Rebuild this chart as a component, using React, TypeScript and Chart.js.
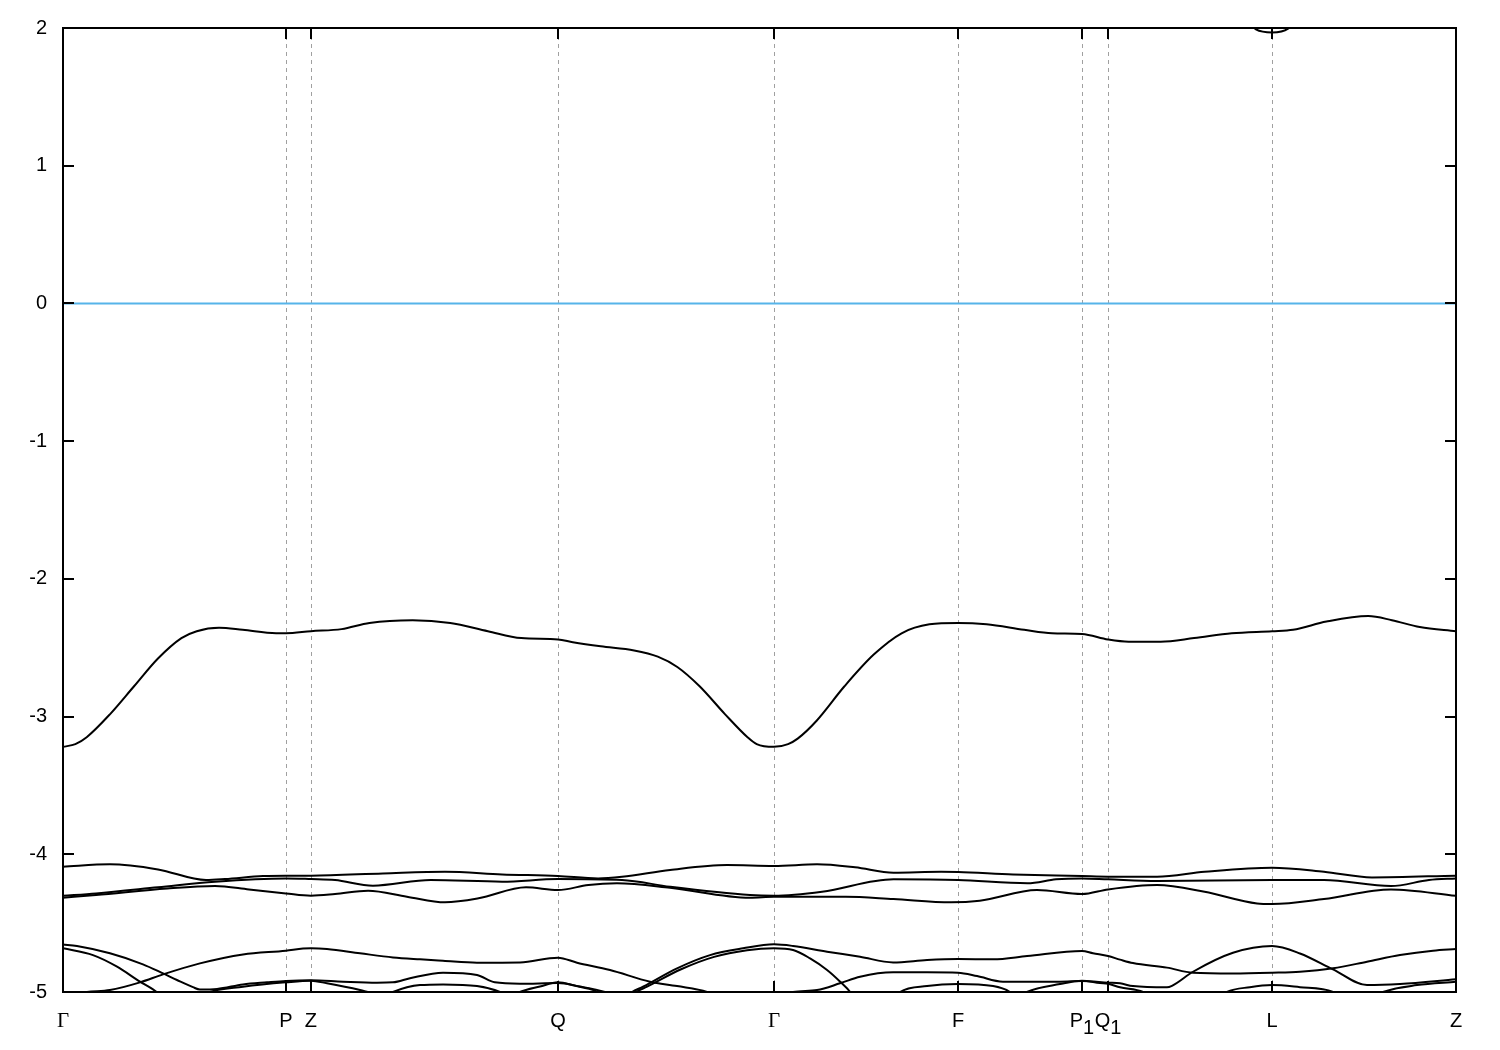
import React, { useEffect, useRef } from 'react';
import { Chart, registerables } from 'chart.js';

Chart.register(...registerables);

type Pt = [number, number];

// high-symmetry points along the k-path (fraction of total path length)
const kPoints: number[] = [0, 0.16, 0.178, 0.3553, 0.5104, 0.6425, 0.7315, 0.7502, 0.868, 1];
const kLabelMain: string[] = ['Γ', 'P', 'Z', 'Q', 'Γ', 'F', 'P', 'Q', 'L', 'Z'];
const kLabelSub: string[] = ['', '', '', '', '', '', '1', '1', '', ''];
const energyTicks: number[] = [-5, -4, -3, -2, -1, 0, 1, 2];
const energyMin = -5;
const energyMax = 2;

const fermiLine: Pt[] = [[0, 0], [1, 0]];

const bandTopValence: Pt[] = [
  [0, -3.22], [0.0089, -3.2], [0.017, -3.15], [0.034, -2.98], [0.051, -2.78], [0.068, -2.58],
  [0.085, -2.43], [0.096, -2.38], [0.112, -2.355], [0.129, -2.37], [0.153, -2.395], [0.16, -2.395],
  [0.178, -2.38], [0.2, -2.365], [0.22, -2.32], [0.251, -2.3], [0.278, -2.32], [0.305, -2.38],
  [0.329, -2.43], [0.3553, -2.44], [0.366, -2.46], [0.386, -2.49], [0.41, -2.52], [0.427, -2.565],
  [0.441, -2.64], [0.457, -2.78], [0.475, -2.98], [0.4914, -3.15], [0.498, -3.2], [0.5104, -3.22],
  [0.5205, -3.2], [0.5274, -3.16], [0.541, -3.03], [0.561, -2.78], [0.582, -2.55], [0.602, -2.395],
  [0.622, -2.33], [0.6425, -2.32], [0.663, -2.33], [0.69, -2.37], [0.71, -2.395], [0.7315, -2.4],
  [0.7502, -2.44], [0.765, -2.456], [0.788, -2.456], [0.812, -2.43], [0.839, -2.395], [0.868, -2.38],
  [0.883, -2.37], [0.907, -2.31], [0.937, -2.27], [0.954, -2.3], [0.974, -2.35], [1, -2.38],
];

const bandA: Pt[] = [
  [0, -4.09], [0.0337, -4.073], [0.0682, -4.11], [0.1027, -4.187], [0.1163, -4.18], [0.1436, -4.158],
  [0.16, -4.155], [0.178, -4.155], [0.2297, -4.139], [0.2742, -4.127], [0.3152, -4.146], [0.3553, -4.158],
  [0.3841, -4.175], [0.4013, -4.163], [0.4358, -4.114], [0.4767, -4.078], [0.5104, -4.085], [0.5413, -4.073],
  [0.5686, -4.095], [0.5962, -4.134], [0.6303, -4.127], [0.6425, -4.129], [0.682, -4.146], [0.7315, -4.158],
  [0.7502, -4.163], [0.7854, -4.163], [0.8195, -4.127], [0.868, -4.097], [0.9052, -4.127], [0.9397, -4.168],
  [1, -4.155],
];

const bandB: Pt[] = [
  [0, -4.301], [0.0237, -4.284], [0.0682, -4.24], [0.1091, -4.199], [0.16, -4.175], [0.178, -4.18],
  [0.1953, -4.187], [0.2225, -4.228], [0.2639, -4.187], [0.3152, -4.199], [0.3553, -4.18], [0.4013, -4.187],
  [0.4358, -4.236], [0.4932, -4.296], [0.5104, -4.301], [0.5449, -4.272], [0.5962, -4.182], [0.6425, -4.187],
  [0.6924, -4.211], [0.7129, -4.182], [0.7315, -4.175], [0.7502, -4.182], [0.7854, -4.194], [0.868, -4.187],
  [0.9052, -4.187], [0.9533, -4.231], [0.9806, -4.187], [1, -4.175],
];

const bandC: Pt[] = [
  [0, -4.315], [0.0237, -4.296], [0.075, -4.248], [0.1091, -4.23], [0.1335, -4.255], [0.16, -4.284],
  [0.178, -4.301], [0.1953, -4.289], [0.219, -4.265], [0.2469, -4.308], [0.2742, -4.349], [0.2983, -4.32],
  [0.3324, -4.24], [0.3553, -4.26], [0.3772, -4.223], [0.3977, -4.211], [0.4358, -4.243], [0.4932, -4.315],
  [0.5104, -4.308], [0.5619, -4.308], [0.5962, -4.325], [0.6375, -4.349], [0.6581, -4.337], [0.6992, -4.26],
  [0.7315, -4.289], [0.7502, -4.255], [0.7854, -4.223], [0.8195, -4.272], [0.8572, -4.357], [0.868, -4.361],
  [0.9052, -4.325], [0.9533, -4.255], [1, -4.301],
];

const bandD1: Pt[] = [
  [0, -4.655], [0.01, -4.666], [0.0337, -4.719], [0.0574, -4.799], [0.0718, -4.865], [0.0818, -4.913],
  [0.0933, -4.965], [0.0983, -4.982], [0.1106, -4.978], [0.1292, -4.945], [0.1465, -4.93], [0.16, -4.92],
  [0.178, -4.915], [0.201, -4.925], [0.2254, -4.932], [0.2369, -4.93], [0.2491, -4.9], [0.2728, -4.86],
  [0.2972, -4.877], [0.31, -4.93], [0.328, -4.94], [0.3553, -4.935], [0.3711, -4.96], [0.389, -5.0],
  [0.394, -5.02],
];

const bandD2: Pt[] = [
  [0, -4.683], [0.0215, -4.732], [0.0388, -4.816], [0.0553, -4.925], [0.0646, -4.981], [0.0711, -5.03],
];

const bandD3: Pt[] = [
  [0.005, -5.02], [0.0172, -5.0], [0.0337, -4.986], [0.0553, -4.93], [0.0718, -4.872], [0.0983, -4.792],
  [0.1292, -4.727], [0.16, -4.7], [0.1723, -4.685], [0.178, -4.683], [0.1895, -4.688], [0.2132, -4.719],
  [0.2369, -4.749], [0.2563, -4.763], [0.2728, -4.773], [0.2972, -4.787], [0.3281, -4.785], [0.3553, -4.751],
  [0.369, -4.787], [0.3927, -4.84], [0.4214, -4.925], [0.4408, -4.957], [0.4623, -5.0], [0.468, -5.03],
];

const bandD4: Pt[] = [
  [0.102, -5.02], [0.1055, -5.0], [0.1292, -4.962], [0.16, -4.93], [0.178, -4.918], [0.1895, -4.937],
  [0.2132, -4.986], [0.2261, -5.02],
];

const bandD5: Pt[] = [
  [0.2333, -5.02], [0.2369, -5.0], [0.2563, -4.95], [0.2728, -4.945], [0.2972, -4.957], [0.3137, -5.0],
  [0.3173, -5.02],
];

const bandD6: Pt[] = [
  [0.3245, -5.02], [0.328, -5.0], [0.3424, -4.96], [0.3553, -4.93], [0.3676, -4.955], [0.382, -4.99],
  [0.3876, -5.02],
];

const bandE1: Pt[] = [
  [0.4056, -5.02], [0.4085, -5.0], [0.4164, -4.961], [0.4408, -4.828], [0.4645, -4.732], [0.4882, -4.683],
  [0.5104, -4.654], [0.5241, -4.666], [0.5485, -4.707], [0.5722, -4.744], [0.5959, -4.785], [0.6203, -4.768],
  [0.6425, -4.761], [0.6677, -4.763], [0.6921, -4.739], [0.7315, -4.702], [0.7394, -4.719], [0.7502, -4.739],
  [0.7588, -4.765], [0.7681, -4.79], [0.7925, -4.823], [0.8112, -4.86], [0.8399, -4.865], [0.868, -4.86],
  [0.888, -4.853], [0.9117, -4.828], [0.9361, -4.78], [0.9598, -4.732], [0.9835, -4.7], [1, -4.688],
];

const bandE2: Pt[] = [
  [0.4085, -5.02], [0.4114, -5.0], [0.4193, -4.961], [0.4437, -4.835], [0.4674, -4.745], [0.4911, -4.697],
  [0.5104, -4.683], [0.5241, -4.695], [0.5363, -4.756], [0.5485, -4.84], [0.5579, -4.925], [0.5651, -5.0],
  [0.567, -5.03],
];

const bandE3: Pt[] = [
  [0.518, -5.02], [0.5241, -5.0], [0.5413, -4.986], [0.5578, -4.937], [0.5722, -4.889], [0.5959, -4.857],
  [0.6203, -4.857], [0.6425, -4.86], [0.6562, -4.884], [0.6748, -4.925], [0.7157, -4.925], [0.7315, -4.92],
  [0.7502, -4.932], [0.7588, -4.937], [0.7681, -4.957], [0.7925, -4.966], [0.7961, -4.955], [0.8112, -4.853],
  [0.8399, -4.715], [0.868, -4.666], [0.888, -4.72], [0.9117, -4.836], [0.9361, -4.95], [0.9598, -4.942],
  [1, -4.908],
];

const bandE4: Pt[] = [
  [0.599, -5.02], [0.6009, -5.0], [0.6203, -4.957], [0.6425, -4.942], [0.6677, -4.957], [0.6798, -5.0],
  [0.682, -5.02],
];

const bandE5: Pt[] = [
  [0.689, -5.02], [0.692, -5.0], [0.7157, -4.942], [0.7315, -4.918], [0.7444, -4.935], [0.7502, -4.94],
  [0.7588, -4.966], [0.7753, -5.0], [0.778, -5.02],
];

const bandE6: Pt[] = [
  [0.833, -5.02], [0.8356, -5.0], [0.852, -4.965], [0.868, -4.95], [0.888, -4.965], [0.9117, -5.0],
  [0.914, -5.02],
];

const bandE7: Pt[] = [
  [0.944, -5.02], [0.9476, -5.0], [0.972, -4.95], [1, -4.925],
];

const bandConduction: Pt[] = [
  [0.852, 2.05], [0.8564, 1.99], [0.868, 1.968], [0.8794, 1.995], [0.884, 2.05],
];

const bands: Pt[][] = [
  bandTopValence, bandA, bandB, bandC,
  bandD1, bandD2, bandD3, bandD4, bandD5, bandD6,
  bandE1, bandE2, bandE3, bandE4, bandE5, bandE6, bandE7,
  bandConduction,
];

const SANS = '"Liberation Sans", Arial, Helvetica, sans-serif';
const SERIF = '"Liberation Serif", "Times New Roman", serif';
const LABEL_SIZE = 20;

const framePlugin = {
  id: 'bandFrame',
  beforeDatasetsDraw(chart: any) {
    const { ctx, chartArea: a, scales } = chart;
    const x = scales.x;
    ctx.save();
    ctx.strokeStyle = '#a0a0a0';
    ctx.lineWidth = 1;
    ctx.setLineDash([4, 4]);
    kPoints.forEach((k) => {
      if (k <= 0 || k >= 1) return;
      const px = Math.round(x.getPixelForValue(k)) + 0.5;
      ctx.beginPath();
      ctx.moveTo(px, a.top);
      ctx.lineTo(px, a.bottom);
      ctx.stroke();
    });
    ctx.restore();
  },
  afterDatasetsDraw(chart: any) {
    const { ctx, chartArea: a, scales } = chart;
    const x = scales.x;
    const y = scales.y;
    ctx.save();
    ctx.strokeStyle = '#000';
    ctx.lineWidth = 2;
    ctx.setLineDash([]);
    ctx.strokeRect(a.left, a.top, a.right - a.left, a.bottom - a.top);
    const tl = 11;
    ctx.beginPath();
    energyTicks.forEach((v) => {
      const py = Math.round(y.getPixelForValue(v));
      ctx.moveTo(a.left, py);
      ctx.lineTo(a.left + tl, py);
      ctx.moveTo(a.right, py);
      ctx.lineTo(a.right - tl, py);
    });
    kPoints.forEach((k) => {
      const px = Math.round(x.getPixelForValue(k));
      ctx.moveTo(px, a.bottom);
      ctx.lineTo(px, a.bottom - tl);
      ctx.moveTo(px, a.top);
      ctx.lineTo(px, a.top + tl);
    });
    ctx.stroke();

    // k-point labels
    ctx.fillStyle = '#000';
    ctx.textBaseline = 'alphabetic';
    ctx.textAlign = 'left';
    const baseY = a.bottom + 35;
    kPoints.forEach((k, i) => {
      const px = x.getPixelForValue(k);
      const main = kLabelMain[i];
      const sub = kLabelSub[i];
      const mainFont = main === 'Γ' ? `21px ${SERIF}` : `${LABEL_SIZE}px ${SANS}`;
      ctx.font = mainFont;
      const wMain = ctx.measureText(main).width;
      ctx.font = `${LABEL_SIZE}px ${SANS}`;
      const wSub = sub ? ctx.measureText(sub).width : 0;
      const start = px - (wMain + wSub) / 2;
      ctx.font = mainFont;
      ctx.fillText(main, start, baseY);
      if (sub) {
        ctx.font = `${LABEL_SIZE}px ${SANS}`;
        ctx.fillText(sub, start + wMain, baseY + 7);
      }
    });
    ctx.restore();
  },
};

export default function App() {
  const ref = useRef<HTMLCanvasElement | null>(null);

  useEffect(() => {
    const canvas = ref.current;
    if (!canvas) return;
    const datasets: any[] = [
      {
        data: fermiLine.map(([x, y]) => ({ x, y })),
        borderColor: '#56b4e9',
        borderWidth: 2,
        pointRadius: 0,
        fill: false,
        tension: 0,
        clip: 0,
      },
      ...bands.map((b) => ({
        data: b.map(([x, y]) => ({ x, y })),
        borderColor: '#000000',
        borderWidth: 2,
        pointRadius: 0,
        fill: false,
        cubicInterpolationMode: 'monotone',
        clip: 0,
      })),
    ];

    const chart = new Chart(canvas, {
      type: 'line',
      data: { datasets },
      options: {
        animation: false,
        responsive: false,
        devicePixelRatio: 1,
        events: [],
        layout: { padding: { top: 28, right: 44, bottom: 58, left: 0 } },
        plugins: { legend: { display: false }, tooltip: { enabled: false } },
        scales: {
          x: { type: 'linear', min: 0, max: 1, display: false },
          y: {
            type: 'linear',
            min: energyMin,
            max: energyMax,
            afterFit: (s: any) => {
              s.width = 63;
            },
            afterBuildTicks: (s: any) => {
              s.ticks = energyTicks.map((v) => ({ value: v }));
            },
            grid: { display: false, drawTicks: false },
            border: { display: false },
            ticks: {
              padding: 16,
              color: '#000',
              font: { family: SANS, size: LABEL_SIZE },
              callback: (v: any) => String(v),
            },
          },
        },
      } as any,
      plugins: [framePlugin],
    } as any);

    return () => chart.destroy();
  }, []);

  return (
    <div style={{ position: 'absolute', left: 0, top: 0, width: 1500, height: 1050, background: '#fff' }}>
      <canvas ref={ref} width={1500} height={1050} style={{ display: 'block' }} />
    </div>
  );
}
